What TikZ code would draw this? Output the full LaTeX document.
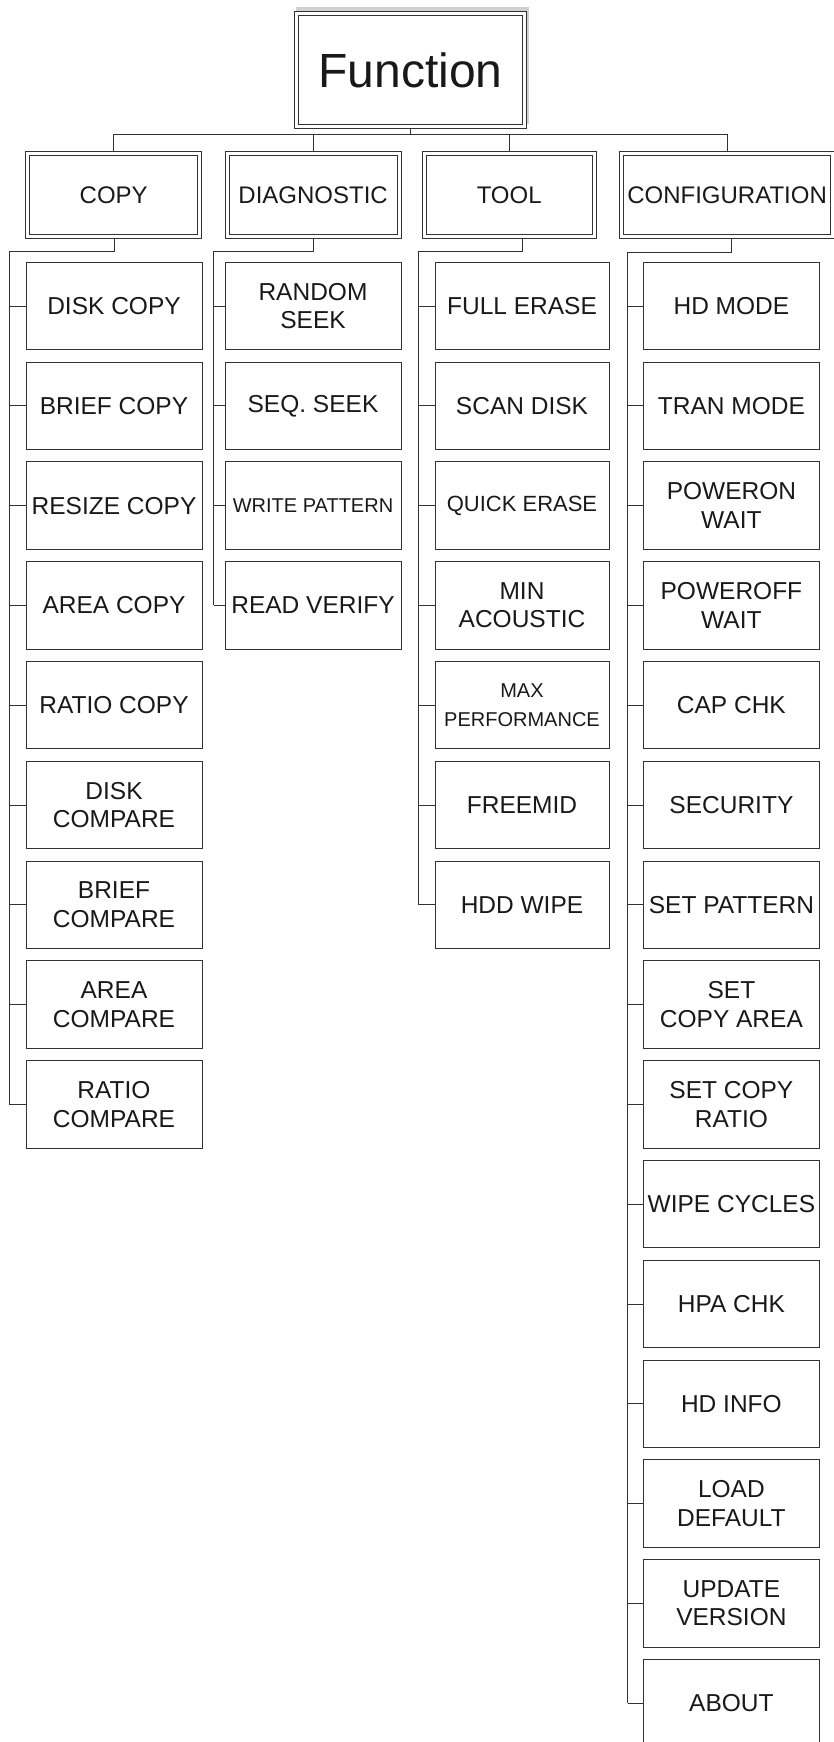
\documentclass[tikz,border=0pt]{standalone}
\usepackage{fontspec}
\setmainfont{Liberation Sans}
\usetikzlibrary{backgrounds}

\newcommand\smalltxt{\fontsize{20}{24}\selectfont}
\newcommand\midtxt{\fontsize{22}{26}\selectfont}

\begin{document}
\begin{tikzpicture}[
    x=1pt, y=-1pt,
    every node/.style={text=black!90},
    rootbox/.style={draw=black!80, line width=1pt, double, double distance=3pt,
        fill=white, minimum width=228pt, minimum height=113pt, inner sep=0pt,
        font=\fontsize{48}{56}\selectfont},
    groupbox/.style={draw=black!80, line width=1pt, double, double distance=3pt,
        minimum width=172pt, minimum height=83pt, inner sep=0pt,
        font=\fontsize{24}{28}\selectfont},
    leafbox/.style={draw=black!80, line width=1pt, minimum width=176pt,
        minimum height=87.5pt, inner sep=0pt, align=center,
        font=\fontsize{24.5}{28.5}\selectfont},
    link/.style={draw=black!80, line width=1pt}
]
\useasboundingbox (0,0) rectangle (834,1742);

% ============================================================
% Wurzel (mit grauem Schatten oben rechts)
% ============================================================
\fill[black!18] (296,6.7) rectangle (529.3,124);
\node[rootbox] (root) at (410.5,70) {Function};

% ============================================================
% Hauptgruppen
% ============================================================
\node[groupbox] (copy) at (113.7,194.9) {COPY};
\node[groupbox] (diag) at (313.1,194.9) {DIAGNOSTIC};
\node[groupbox, minimum width=170pt] (tool) at (509.2,194.9) {TOOL};
\node[groupbox, minimum width=211pt] (config) at (727.1,194.9) {CONFIGURATION};

% ============================================================
% Menuepunkte (Raster 99.8pt)
% ============================================================
\foreach \txt [count=\i from 0] in {DISK COPY, BRIEF COPY, RESIZE COPY,
    AREA COPY, RATIO COPY, DISK\\COMPARE, BRIEF\\COMPARE, AREA\\COMPARE,
    RATIO\\COMPARE}
  \node[leafbox] (copy-\i) at (114,{306+99.8*\i}) {\txt};

\foreach \txt [count=\i from 0] in {RANDOM\\SEEK, SEQ. SEEK,
    \smalltxt WRITE PATTERN, READ VERIFY}
  \node[leafbox] (diag-\i) at (313,{306+99.8*\i}) {\txt};

\foreach \txt [count=\i from 0] in {FULL ERASE, SCAN DISK,
    \midtxt QUICK ERASE, MIN\\ACOUSTIC,
    \smalltxt MAX\\\smalltxt PERFORMANCE, FREEMID, HDD WIPE}
  \node[leafbox, minimum width=174pt] (tool-\i) at (522,{306+99.8*\i}) {\txt};

\foreach \txt [count=\i from 0] in {HD MODE, TRAN MODE, POWERON\\WAIT,
    POWEROFF\\WAIT, CAP CHK, SECURITY, SET PATTERN, SET\\COPY AREA,
    SET COPY\\RATIO, WIPE CYCLES, HPA CHK, HD INFO, LOAD\\DEFAULT,
    UPDATE\\VERSION, ABOUT}
  \node[leafbox] (config-\i) at (731.4,{306+99.8*\i}) {\txt};

% ============================================================
% Verbindungen (hinter den Doppelrahmen)
% ============================================================
\begin{scope}[on background layer]
\coordinate (bus) at (0,134.3);
\draw[link] (root.south) -- (root.south |- bus);
\draw[link] (copy.north |- bus) -- (config.north |- bus);
\foreach \g in {copy,diag,tool,config}
  \draw[link] (\g.north |- bus) -- (\g.north);

% Stamm je Spalte, dann Abzweige zu den Punkten
\foreach \g/\tx/\ty/\last in {copy/9.3/251/8, diag/213.7/251/3,
    tool/418/251/6, config/627.5/252.3/14} {
  \coordinate (\g-elbow) at (\tx,\ty);
  \draw[link] (\g.south -| \g-0.north) |- (\g-elbow)
      -- (\g-elbow |- \g-\last.west);
  \foreach \i in {0,...,\last}
    \draw[link] (\g-elbow |- \g-\i.west) -- (\g-\i.west);
}
\end{scope}

\end{tikzpicture}
\end{document}
